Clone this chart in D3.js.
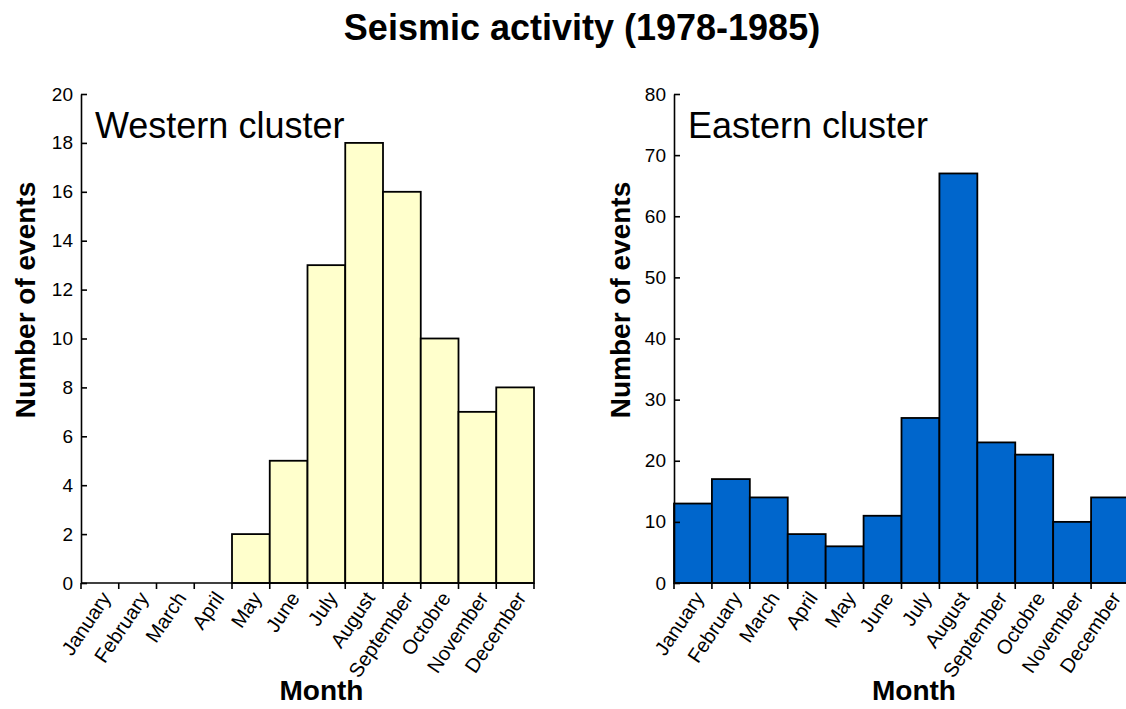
<!DOCTYPE html>
<html>
<head>
<meta charset="utf-8">
<script src="https://cdn.jsdelivr.net/npm/d3@7"></script>
<style>
  body { margin: 0; background: #fff; }
  svg { font-family: Arial, "Liberation Sans", sans-serif; }
</style>
</head>
<body>
<svg id="chart"></svg>
<script>
var width = 1126;
var height = 709;

var months = ["January", "February", "March", "April", "May", "June",
  "July", "August", "September", "Octobre", "November", "December"];
var westernCounts = [0, 0, 0, 0, 2, 5, 13, 18, 16, 10, 7, 8];
var easternCounts = [13, 17, 14, 8, 6, 11, 27, 67, 23, 21, 10, 14];
var westernTicks = [0, 2, 4, 6, 8, 10, 12, 14, 16, 18, 20];
var easternTicks = [0, 10, 20, 30, 40, 50, 60, 70, 80];

var svg = d3.select("#chart")
  .attr("width", width)
  .attr("height", height);

svg.append("text")
  .attr("x", 582)
  .attr("y", 40)
  .attr("text-anchor", "middle")
  .attr("font-size", 36)
  .attr("font-weight", "bold")
  .text("Seismic activity (1978-1985)");

var panels = [
  { name: "Western cluster", values: westernCounts, ticks: westernTicks, max: 20,
    left: 81, right: 534, fill: "#FFFFCC", titleX: 25 },
  { name: "Eastern cluster", values: easternCounts, ticks: easternTicks, max: 80,
    left: 674, right: 1129, fill: "#0066CC", titleX: 620 }
];

var plotTop = 94;
var plotBottom = 583;

panels.forEach(function (p) {
  var x = d3.scaleBand().domain(months).range([p.left, p.right]).padding(0);
  var y = d3.scaleLinear().domain([0, p.max]).range([plotBottom, plotTop]);
  var g = svg.append("g");

  // bars
  g.selectAll("rect")
    .data(months.map(function (m, i) { return { month: m, value: p.values[i] }; })
      .filter(function (d) { return d.value > 0; }))
    .enter()
    .append("rect")
    .attr("x", function (d) { return x(d.month); })
    .attr("y", function (d) { return y(d.value); })
    .attr("width", x.bandwidth())
    .attr("height", function (d) { return plotBottom - y(d.value); })
    .attr("fill", p.fill)
    .attr("stroke", "#000")
    .attr("stroke-width", 1.8);

  // y axis, ticks pointing inward
  var yAxis = g.append("g")
    .attr("transform", "translate(" + p.left + ",0)")
    .call(d3.axisLeft(y).tickValues(p.ticks).tickSizeInner(-6).tickSizeOuter(0).tickPadding(8));
  yAxis.select(".domain").attr("stroke-width", 1.6);
  yAxis.selectAll(".tick line").attr("stroke-width", 1.6);
  yAxis.selectAll(".tick text")
    .attr("font-size", 19)
    .attr("font-family", "Arial, 'Liberation Sans', sans-serif")
    .attr("fill", "#000");

  // x axis line
  g.append("line")
    .attr("x1", p.left).attr("x2", p.right)
    .attr("y1", plotBottom).attr("y2", plotBottom)
    .attr("stroke", "#000")
    .attr("stroke-width", 1.6);

  // ticks at band boundaries
  var edges = months.map(function (m) { return x(m); }).concat([p.right]);
  g.selectAll(".edge")
    .data(edges)
    .enter()
    .append("line")
    .attr("class", "edge")
    .attr("x1", function (d) { return d; })
    .attr("x2", function (d) { return d; })
    .attr("y1", plotBottom)
    .attr("y2", plotBottom + 6)
    .attr("stroke", "#000")
    .attr("stroke-width", 1.6);

  // month labels
  g.selectAll(".month")
    .data(months)
    .enter()
    .append("text")
    .attr("class", "month")
    .attr("transform", function (d) {
      return "translate(" + (x(d) + x.bandwidth() / 2 + 6) + "," + (plotBottom + 11) + ") rotate(-56)";
    })
    .attr("text-anchor", "end")
    .attr("dy", "0.35em")
    .attr("font-size", 20)
    .text(function (d) { return d; });

  // panel name
  g.append("text")
    .attr("x", p.left + 14)
    .attr("y", 138)
    .attr("font-size", 36)
    .text(p.name);

  // axis titles
  g.append("text")
    .attr("transform", "translate(" + (p.titleX + 10) + "," + 300 + ") rotate(-90)")
    .attr("text-anchor", "middle")
    .attr("font-size", 28)
    .attr("font-weight", "bold")
    .text("Number of events");

  g.append("text")
    .attr("x", (p.left + Math.min(p.right, width)) / 2 + 14)
    .attr("y", 700)
    .attr("text-anchor", "middle")
    .attr("font-size", 28)
    .attr("font-weight", "bold")
    .text("Month");
});
</script>
</body>
</html>
